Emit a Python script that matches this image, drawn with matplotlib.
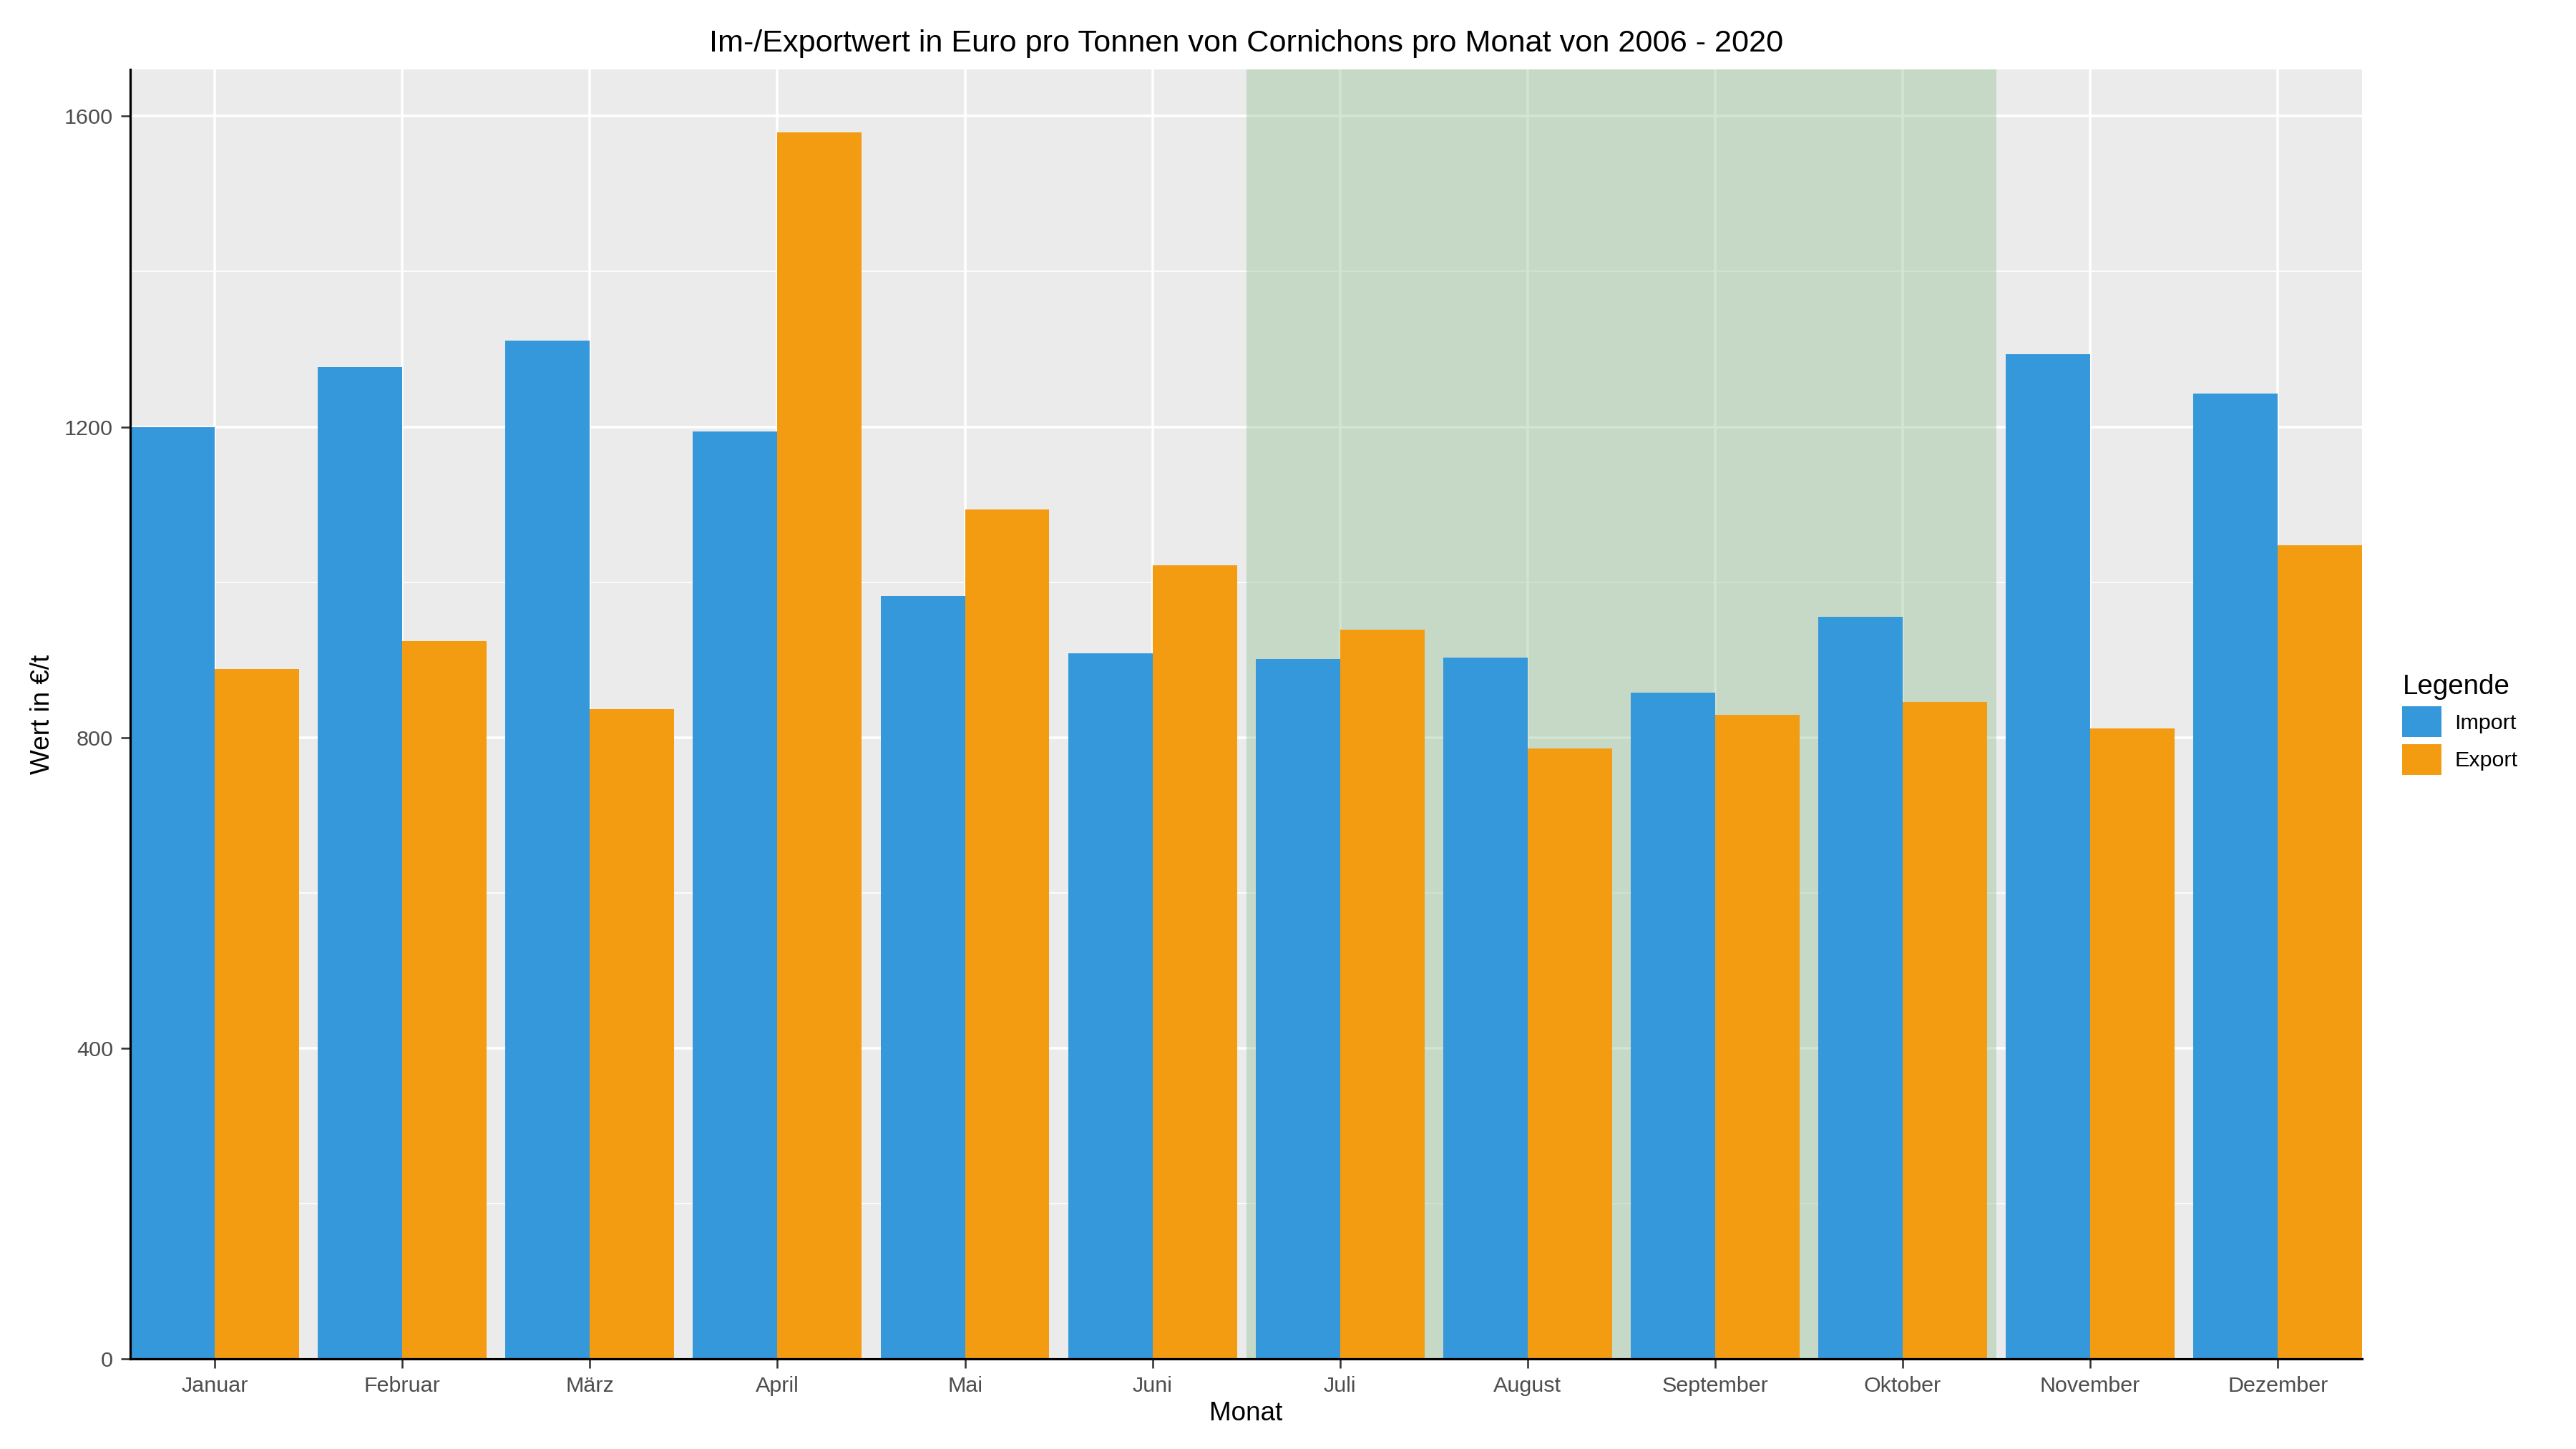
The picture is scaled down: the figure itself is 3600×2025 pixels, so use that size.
import numpy as np
import matplotlib.pyplot as plt
from matplotlib.patches import Patch
from matplotlib.ticker import MultipleLocator

plt.rcParams['font.family'] = ['Liberation Sans', 'DejaVu Sans']

months = ["Januar", "Februar", "März", "April", "Mai", "Juni", "Juli",
          "August", "September", "Oktober", "November", "Dezember"]
import_vals = [1200, 1277, 1311, 1194, 982, 909, 901, 903, 858, 956, 1294, 1243]
export_vals = [888, 924, 837, 1579, 1094, 1022, 939, 786, 829, 846, 812, 1048]

c_imp = "#3498DB"
c_exp = "#F39C12"

fig = plt.figure(figsize=(15.6, 8.775), dpi=230.77)
ax = fig.add_axes([0.0506, 0.062, 0.8664, 0.890])
ax.set_facecolor("#EBEBEB")

x = np.arange(1, len(months) + 1)
w = 0.45
ax.axvspan(6.5, 10.5, color="#8FBC8F", alpha=0.4, zorder=1, lw=0)
ax.bar(x - w / 2, import_vals, width=w, color=c_imp, zorder=2)
ax.bar(x + w / 2, export_vals, width=w, color=c_exp, zorder=2)

ax.set_xlim(0.55, 12.45)
ax.set_ylim(0, 1660)
ax.set_xticks(x)
ax.set_xticklabels(months, fontsize=9.5, color="#4D4D4D")
ax.yaxis.set_major_locator(MultipleLocator(400))
ax.yaxis.set_minor_locator(MultipleLocator(200))
ax.tick_params(axis='y', labelsize=9.5, labelcolor="#4D4D4D")
ax.tick_params(axis='both', which='major', length=4, color="#333333")
ax.tick_params(axis='y', which='minor', length=0)
ax.grid(which='major', color='white', lw=1.1, zorder=0)
ax.grid(which='minor', axis='y', color='white', lw=0.5, zorder=0)
ax.set_axisbelow(True)
for s in ["top", "right"]:
    ax.spines[s].set_visible(False)
for s in ["left", "bottom"]:
    ax.spines[s].set_color("black")
    ax.spines[s].set_linewidth(1.0)

ax.set_xlabel("Monat", fontsize=11.5, labelpad=2)
ax.set_ylabel("Wert in €/t", fontsize=11.5)
ax.set_title("Im-/Exportwert in Euro pro Tonnen von Cornichons pro Monat von 2006 - 2020",
             fontsize=13.5, pad=8)

handles = [Patch(facecolor=c_imp, label="Import"), Patch(facecolor=c_exp, label="Export")]
leg = fig.legend(handles=handles, title="Legende", loc="center left",
                 bbox_to_anchor=(0.925, 0.5), frameon=False, fontsize=9.5,
                 title_fontsize=12, handlelength=1.8, handleheight=1.8,
                 handletextpad=0.6, labelspacing=0.3)
leg._legend_box.align = "left"

fig.savefig("out.png", dpi=230.77)
